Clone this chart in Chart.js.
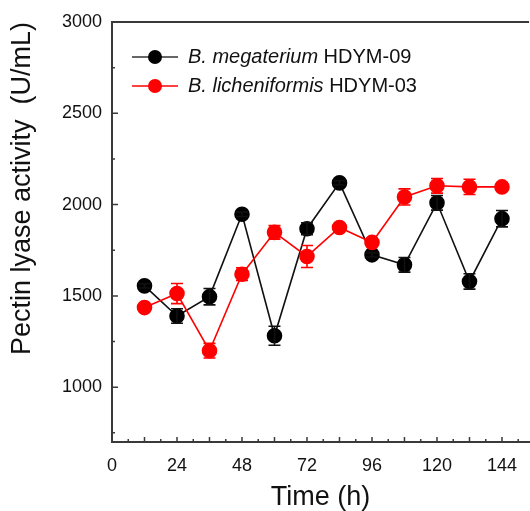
<!DOCTYPE html>
<html>
<head>
<meta charset="utf-8">
<script src="https://cdn.jsdelivr.net/npm/chart.js@4.4.1/dist/chart.umd.min.js"></script>
<style>
    html, body { margin: 0; padding: 0; background: #fff; }
    #wrap { width: 530px; height: 511px; }
</style>
</head>
<body>
<div id="wrap"><canvas id="chart" width="530" height="511"></canvas></div>
<script>
const hours = [12, 24, 36, 48, 60, 72, 84, 96, 108, 120, 132, 144];
const megaterium = [1555, 1390, 1496, 1947, 1282, 1868, 2119, 1725, 1670, 2010, 1579, 1923];
const megateriumErr = [12, 40, 45, 12, 52, 33, 12, 12, 40, 40, 42, 45];
const licheniformis = [1436, 1513, 1200, 1619, 1848, 1716, 1875, 1793, 2042, 2103, 2097, 2097];
const licheniformisErr = [12, 55, 40, 35, 37, 60, 12, 12, 44, 40, 42, 12];

const xTicks = [0, 24, 48, 72, 96, 120, 144];
const xMajorMarks = [12, 24, 36, 48, 60, 72, 84, 96, 108, 120, 132, 144];
const xMinorMarks = [6, 18, 30, 42, 54, 66, 78, 90, 102, 114, 126, 138, 150];
const yTicks = [1000, 1500, 2000, 2500, 3000];
const yMinorMarks = [750, 1250, 1750, 2250, 2750];

const legendItems = [
    { italic: 'B. megaterium', plain: ' HDYM-09', color: '#000000', line: '#333333' },
    { italic: 'B. licheniformis', plain: ' HDYM-03', color: '#ff0000', line: '#ff0000' }
];

const FONT = 'Arial, "Liberation Sans", sans-serif';
const AXIS_COLOR = '#3a3a3a';

const errorBars = {
    id: 'errorBars',
    afterDatasetsDraw(chart) {
        const ctx = chart.ctx;
        const x = chart.scales.x;
        const y = chart.scales.y;
        chart.data.datasets.forEach(ds => {
            ctx.save();
            ctx.strokeStyle = ds.borderColor;
            ctx.lineWidth = 1.6;
            ds.values.forEach((v, i) => {
                const err = ds.errors[i];
                const px = x.getPixelForValue(hours[i]);
                const top = y.getPixelForValue(v + err);
                const bot = y.getPixelForValue(v - err);
                ctx.beginPath();
                ctx.moveTo(px, top); ctx.lineTo(px, bot);
                ctx.moveTo(px - 6, top); ctx.lineTo(px + 6, top);
                ctx.moveTo(px - 6, bot); ctx.lineTo(px + 6, bot);
                ctx.stroke();
            });
            ctx.restore();
        });
    }
};

const innerTicks = {
    id: 'innerTicks',
    afterDraw(chart) {
        const ctx = chart.ctx;
        const x = chart.scales.x;
        const y = chart.scales.y;
        const area = chart.chartArea;
        ctx.save();
        ctx.strokeStyle = AXIS_COLOR;
        ctx.lineWidth = 1.5;
        ctx.beginPath();
        yTicks.forEach(v => {
            const py = y.getPixelForValue(v);
            ctx.moveTo(area.left, py); ctx.lineTo(area.left + 6, py);
        });
        yMinorMarks.forEach(v => {
            const py = y.getPixelForValue(v);
            ctx.moveTo(area.left, py); ctx.lineTo(area.left + 3, py);
        });
        xMajorMarks.forEach(v => {
            const px = x.getPixelForValue(v);
            ctx.moveTo(px, area.bottom); ctx.lineTo(px, area.bottom - 5);
        });
        xMinorMarks.forEach(v => {
            const px = x.getPixelForValue(v);
            ctx.moveTo(px, area.bottom); ctx.lineTo(px, area.bottom - 3);
        });
        ctx.stroke();
        // top frame line
        ctx.lineWidth = 2;
        ctx.beginPath();
        ctx.moveTo(area.left, area.top);
        ctx.lineTo(area.right, area.top);
        ctx.stroke();
        ctx.restore();
    }
};

const customLegend = {
    id: 'customLegend',
    afterDraw(chart) {
        const ctx = chart.ctx;
        const area = chart.chartArea;
        ctx.save();
        legendItems.forEach((item, i) => {
            const cy = area.top + 35 + i * 29;
            const x0 = area.left + 20;
            ctx.strokeStyle = item.line;
            ctx.lineWidth = 1.6;
            ctx.beginPath();
            ctx.moveTo(x0, cy); ctx.lineTo(x0 + 46, cy);
            ctx.stroke();
            ctx.fillStyle = item.color;
            ctx.beginPath();
            ctx.arc(x0 + 23, cy, 7, 0, Math.PI * 2);
            ctx.fill();
            ctx.fillStyle = '#111';
            ctx.textBaseline = 'middle';
            ctx.font = 'italic 20px ' + FONT;
            const tx = x0 + 56;
            ctx.fillText(item.italic, tx, cy);
            const w = ctx.measureText(item.italic).width;
            ctx.font = '20px ' + FONT;
            ctx.fillText(item.plain, tx + w, cy);
        });
        ctx.restore();
    }
};

const ctx = document.getElementById('chart').getContext('2d');

const series = [{
    label: 'B. megaterium HDYM-09',
    values: megaterium,
    errors: megateriumErr,
    color: '#000000',
    line: '#111111',
    order: 1
}, {
    label: 'B. licheniformis HDYM-03',
    values: licheniformis,
    errors: licheniformisErr,
    color: '#ff0000',
    line: '#ff0000',
    order: 0
}];

new Chart(ctx, {
    type: 'line',
    data: {
        datasets: series.map(s => ({
            label: s.label,
            data: s.values.map((v, i) => ({ x: hours[i], y: v })),
            values: s.values,
            errors: s.errors,
            borderColor: s.line,
            backgroundColor: s.color,
            pointBackgroundColor: s.color,
            pointBorderColor: s.color,
            borderWidth: 1.6,
            pointRadius: 7,
            tension: 0,
            order: s.order
        }))
    },
    options: {
        responsive: false,
        animation: false,
        layout: { autoPadding: false, padding: { left: 0, right: 0, top: 22, bottom: 0 } },
        plugins: {
            legend: { display: false },
            tooltip: { enabled: false }
        },
        scales: {
            x: {
                type: 'linear',
                min: 0,
                max: 154,
                afterBuildTicks: scale => { scale.ticks = xTicks.map(v => ({ value: v })); },
                afterFit: scale => { scale.height = 69; },
                grid: { display: false, drawTicks: false },
                border: { display: true, color: AXIS_COLOR, width: 2 },
                ticks: {
                    color: '#111',
                    font: { family: FONT, size: 18 },
                    padding: 13,
                    maxRotation: 0
                },
                title: {
                    display: true,
                    text: 'Time (h)',
                    color: '#111',
                    font: { family: FONT, size: 27, lineHeight: 1 },
                    padding: { top: 0, bottom: 0 }
                }
            },
            y: {
                min: 700,
                max: 3000,
                afterBuildTicks: scale => { scale.ticks = yTicks.map(v => ({ value: v })); },
                afterFit: scale => { scale.width = 112; },
                grid: { display: false, drawTicks: false },
                border: { display: true, color: AXIS_COLOR, width: 2 },
                ticks: {
                    color: '#111',
                    font: { family: FONT, size: 18 },
                    padding: 10,
                    callback: v => String(v)
                },
                title: {
                    display: true,
                    text: 'Pectin lyase activity  (U/mL)',
                    align: 'end',
                    color: '#111',
                    font: { family: FONT, size: 27, lineHeight: 1 },
                    padding: { top: 9, bottom: 0 }
                }
            }
        }
    },
    plugins: [errorBars, innerTicks, customLegend]
});
</script>
</body>
</html>
